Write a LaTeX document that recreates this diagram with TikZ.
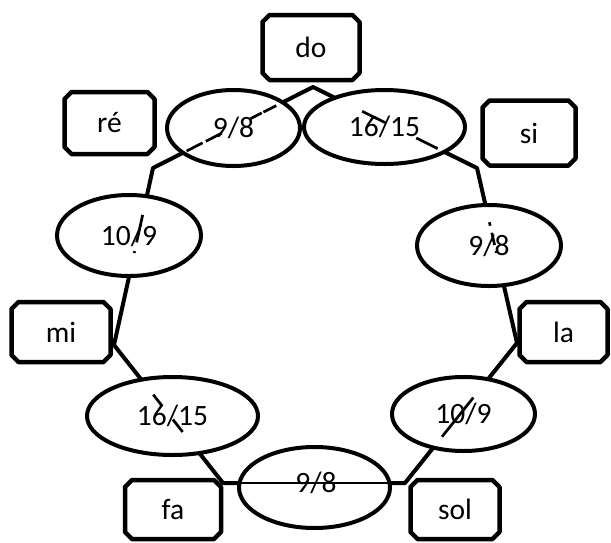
\documentclass[tikz,border=0pt]{standalone}
\usepackage{fontspec}
\setmainfont{Carlito}
\usetikzlibrary{shapes.misc,shapes.geometric,calc}
\begin{document}
\begin{tikzpicture}[x=1pt,y=-1pt,
  notebox/.style={chamfered rectangle, chamfered rectangle xsep=3.5pt,
    chamfered rectangle ysep=3.5pt, draw, line width=4.5pt,
    line join=round, fill=white, inner sep=0pt,
    font=\fontsize{29.5}{34}\selectfont},
  ratio/.style={ellipse, draw, line width=4pt, fill=white, inner sep=0pt,
    font=\fontsize{29.5}{34}\selectfont},
  ring/.style={line width=4pt, line join=round},
  trace/.style={line width=2.7pt}
]
\useasboundingbox (0,0) rectangle (611,542);

% corners of the cycle of notes
\coordinate (vdo)  at (313,87);
\coordinate (vre)  at (153,168);
\coordinate (vmi)  at (114,345);
\coordinate (vfa)  at (223,483);
\coordinate (vsol) at (405,483);
\coordinate (vla)  at (517,343);
\coordinate (vsi)  at (477,168);

\draw[ring] (vdo) -- (vre) -- (vmi) -- (vfa) -- (vsol) -- (vla) -- (vsi) -- cycle;

% note names
\node[notebox, minimum width=97pt, minimum height=65pt] (do)  at (311,47.5) {do};
\node[notebox, minimum width=90pt, minimum height=62pt] (re)  at (109.5,123) {ré};
\node[notebox, minimum width=93pt, minimum height=65pt] (si)  at (529,133) {si};
\node[notebox, minimum width=99pt, minimum height=60pt] (mi)  at (61,332) {mi};
\node[notebox, minimum width=88pt, minimum height=60pt] (la)  at (563.5,332) {la};
\node[notebox, minimum width=96pt, minimum height=59pt] (fa)  at (173,509.5) {fa};
\node[notebox, minimum width=89pt, minimum height=59pt] (sol) at (455,509.5) {sol};

% interval ratios between neighbouring notes
\node[ratio, minimum width=133pt, minimum height=76pt] (r1) at (233.5,128) {9/8};
\node[ratio, minimum width=161pt, minimum height=74pt] (r2) at (384.5,127) {16/15};
\node[ratio, minimum width=144pt, minimum height=81pt] (r3) at (129,235.5) {10/9};
\node[ratio, minimum width=144pt, minimum height=81pt] (r4) at (489,245.5) {9/8};
\node[ratio, minimum width=171pt, minimum height=78pt] (r5) at (172.5,416) {16/15};
\node[ratio, minimum width=143pt, minimum height=74pt] (r6) at (463.5,414) {10/9};
\node[ratio, minimum width=151pt, minimum height=81pt] (r7) at (314.5,487.5) {};
\node[font=\fontsize{29.5}{34}\selectfont, inner sep=0pt] (r7t) at (316,483) {9/8};

% bits of the sides left showing across the ratios
\draw[trace] ($(vre)!0.21!(vdo)$) -- ($(vre)!0.31!(vdo)$);
\draw[trace] ($(vre)!0.33!(vdo)$) -- ($(vre)!0.43!(vdo)$);
\draw[trace] ($(vre)!0.61!(vdo)$) -- ($(vre)!0.68!(vdo)$);
\draw[trace] ($(vre)!0.69!(vdo)$) -- ($(vre)!0.77!(vdo)$);
\draw[trace] ($(vdo)!0.30!(vsi)$) -- ($(vdo)!0.44!(vsi)$);
\draw[trace] ($(vdo)!0.63!(vsi)$) -- ($(vdo)!0.76!(vsi)$);
\draw[trace] ($(vre)!0.265!(vmi)$) -- ($(vre)!0.42!(vmi)$);
\draw[trace] ($(vre)!0.47!(vmi)$) -- ($(vre)!0.48!(vmi)$);
\draw[trace] ($(vla)!0.67!(vsi)$) -- ($(vla)!0.69!(vsi)$);
\draw[trace] ($(vla)!0.56!(vsi)$) -- ($(vla)!0.63!(vsi)$);
\draw[trace] ($(vla)!0.515!(vsi)$) -- ($(vla)!0.525!(vsi)$);
\draw[trace] ($(vmi)!0.36!(vfa)$) -- ($(vmi)!0.44!(vfa)$);
\draw[trace] ($(vmi)!0.54!(vfa)$) -- ($(vmi)!0.63!(vfa)$);
\draw[trace] ($(vsol)!0.33!(vla)$) -- ($(vsol)!0.61!(vla)$);

% the lower side runs straight across its ratio
\draw[line width=2pt] (vfa) -- (vsol);
\end{tikzpicture}
\end{document}
